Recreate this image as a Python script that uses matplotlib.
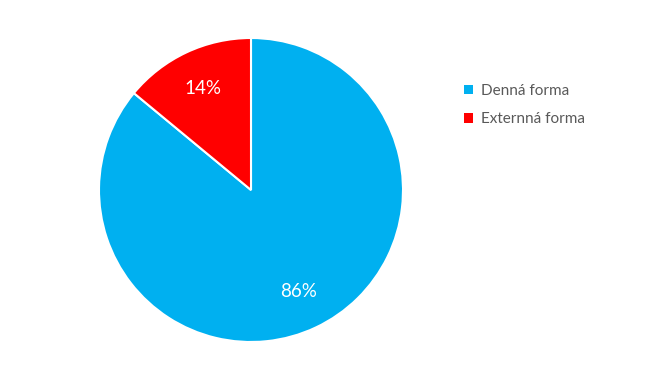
import matplotlib
matplotlib.use('Agg')
import matplotlib.pyplot as plt
from matplotlib.patches import Patch

labels = ['Denná forma', 'Externná forma']
values = [86, 14]
colors = ['#00B0F0', '#FF0000']

plt.rcParams['font.family'] = ['Lato', 'DejaVu Sans']

fig = plt.figure(figsize=(6.54, 3.82), dpi=100)
ax = fig.add_axes([99/654, 40/382, 304/654, 304/382])

wedges, texts, autotexts = ax.pie(values, colors=colors, startangle=90, counterclock=False,
                                  autopct='%d%%', pctdistance=0.74,
                                  wedgeprops={'edgecolor': 'white', 'linewidth': 1.5})
for t in autotexts:
    t.set_color('white')
    t.set_fontsize(13.5)
ax.set_aspect('equal')
ax.set_xlim(-1, 1)
ax.set_ylim(-1, 1)

handles = [Patch(facecolor=c, edgecolor='none') for c in colors]
fig.legend(handles, labels, loc='upper left', bbox_to_anchor=(450/654, 1 - 70/382),
           frameon=False, fontsize=11, labelcolor='#595959',
           handlelength=0.6, handleheight=0.6, handletextpad=0.5, labelspacing=0.95)

fig.savefig('out.png', dpi=100)
